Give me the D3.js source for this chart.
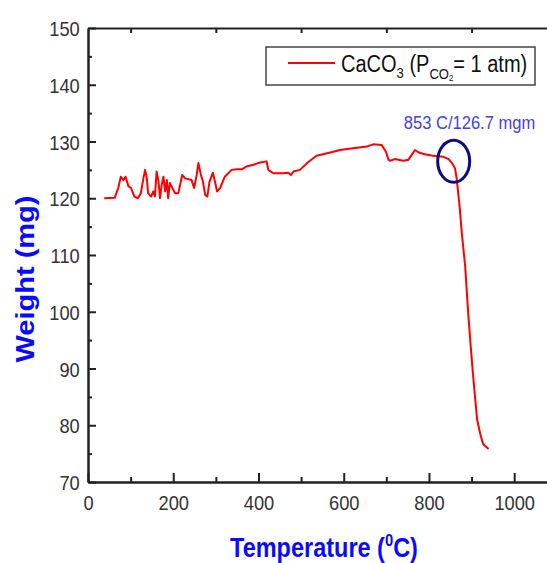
<!DOCTYPE html>
<html>
<head>
<meta charset="utf-8">
<script src="https://cdn.jsdelivr.net/npm/d3@7"></script>
<style>
  html, body { margin: 0; padding: 0; background: #fff; }
  svg { display: block; font-family: "Liberation Sans", Arial, sans-serif; }
</style>
</head>
<body>
<div id="chart"></div>
<script>
// ---- Data ----
const temperature = [38, 63, 71, 77, 83, 88, 95, 101, 109, 117, 124, 130, 134, 138, 141, 148, 153, 157, 161, 165, 169, 173, 177, 181, 185, 188, 192, 196, 204, 212, 221, 228, 243, 249, 255, 259, 265, 269, 275, 280, 285, 293, 298, 303, 310, 321, 337, 349, 361, 372, 388, 404, 419, 423, 435, 458, 470, 476, 482, 497, 517, 536, 576, 591, 622, 654, 669, 689, 699, 705, 709, 720, 740, 752, 759, 767, 775, 787, 810, 834, 846, 854, 861, 865, 872, 877, 885, 892, 898, 903, 908, 913, 920, 925, 928, 940, 951];
const weight = [120.0, 120.1, 121.8, 123.8, 123.2, 123.8, 122.1, 121.8, 120.3, 120.0, 120.9, 123.5, 125.0, 123.5, 120.9, 120.3, 121.2, 120.3, 124.7, 123.2, 120.0, 122.4, 123.8, 121.2, 123.2, 120.0, 122.7, 122.1, 120.9, 120.9, 124.1, 123.5, 123.2, 121.8, 124.1, 126.2, 124.1, 123.2, 120.6, 120.3, 122.9, 124.5, 122.9, 121.2, 121.8, 123.8, 125.0, 125.1, 125.1, 125.6, 125.9, 126.3, 126.5, 125.0, 124.4, 124.4, 124.5, 124.1, 124.7, 125.0, 126.4, 127.5, 128.2, 128.5, 128.8, 129.1, 129.5, 129.4, 128.2, 126.8, 126.6, 126.9, 126.6, 126.8, 127.6, 128.5, 128.1, 127.8, 127.5, 127.3, 126.9, 126.2, 125.3, 123.5, 118.5, 113.9, 108.0, 99.8, 93.9, 89.2, 85.1, 81.0, 78.6, 77.2, 76.6, 75.8];
const xMajorTicks = [0, 200, 400, 600, 800, 1000];
const xMinorTicks = [100, 300, 500, 700, 900, 1100];
const yMajorTicks = [70, 80, 90, 100, 110, 120, 130, 140, 150];
const yMinorTicks = [75, 85, 95, 105, 115, 125, 135, 145];
const seriesLabel = ["CaCO", "3", " (P", "CO", "2", "= 1 atm)"];
const annotationText = "853 C/126.7 mgm";
const annotationPoint = [858, 127.4];
const xTitle = ["Temperature (", "0", "C)"];
const yTitle = "Weight (mg)";

// ---- Layout ----
const W = 547, H = 563;
const mLeft = 88, mTop = 28, mBottom = 482;
const pxPerUnit = 0.4262;
const SX = 0.87; // horizontal text compression seen in the reference

const x = d3.scaleLinear().domain([0, 1100]).range([mLeft, mLeft + 1100 * pxPerUnit]);
const y = d3.scaleLinear().domain([70, 150]).range([mBottom, mTop]);

const svg = d3.select("#chart").append("svg").attr("width", W).attr("height", H);

const axisColor = "#222";
const labelColor = "#333";

function styleAxis(g, hideText) {
  g.select(".domain").attr("stroke", axisColor).attr("stroke-width", 2);
  g.selectAll(".tick line").attr("stroke", axisColor).attr("stroke-width", 2);
  if (hideText) g.selectAll(".tick text").remove();
}

// Bottom axis: minor then major
svg.append("g").attr("transform", `translate(0,${mBottom})`)
  .call(d3.axisBottom(x).tickValues(xMinorTicks).tickSize(-5).tickSizeOuter(0).tickFormat(""))
  .call(g => styleAxis(g, true));
const xAx = svg.append("g").attr("transform", `translate(0,${mBottom})`)
  .call(d3.axisBottom(x).tickValues(xMajorTicks).tickSize(-9).tickSizeOuter(0).tickPadding(13).tickFormat(d3.format("d")))
  .call(g => styleAxis(g, false));
xAx.selectAll(".tick text")
  .attr("font-size", 21).attr("fill", labelColor)
  .attr("font-family", "'Liberation Sans', Arial, sans-serif")
  .attr("transform", `scale(${SX},1)`);

// Top axis
svg.append("g").attr("transform", `translate(0,${mTop})`)
  .call(d3.axisTop(x).tickValues(xMinorTicks).tickSize(-5).tickSizeOuter(0).tickFormat(""))
  .call(g => styleAxis(g, true));

// Left axis
svg.append("g").attr("transform", `translate(${mLeft},0)`)
  .call(d3.axisLeft(y).tickValues(yMinorTicks).tickSize(-4).tickSizeOuter(0).tickFormat(""))
  .call(g => styleAxis(g, true));
const yAx = svg.append("g").attr("transform", `translate(${mLeft},0)`)
  .call(d3.axisLeft(y).tickValues(yMajorTicks).tickSize(-8).tickSizeOuter(0).tickPadding(9.5).tickFormat(d3.format("d")))
  .call(g => styleAxis(g, false));
yAx.selectAll(".tick text")
  .attr("font-size", 21).attr("fill", labelColor)
  .attr("font-family", "'Liberation Sans', Arial, sans-serif")
  .attr("dy", "0.36em")
  .attr("transform", `scale(${SX},1)`);

// Data line
const data = temperature.map((t, i) => [t, weight[i]]);
svg.append("path")
  .datum(data)
  .attr("fill", "none")
  .attr("stroke", "#ff0000")
  .attr("stroke-width", 2)
  .attr("stroke-linejoin", "round")
  .attr("d", d3.line().x(d => x(d[0])).y(d => y(d[1])));

// Circle marker
svg.append("ellipse")
  .attr("cx", x(annotationPoint[0])).attr("cy", y(annotationPoint[1]) + 5)
  .attr("rx", 16).attr("ry", 21)
  .attr("fill", "none").attr("stroke", "#0b0b85").attr("stroke-width", 3);

// Annotation text
svg.append("g").attr("transform", `translate(469.5,129.3) scale(${SX},1)`)
  .append("text").attr("text-anchor", "middle")
  .attr("font-size", 19).attr("fill", "#4242e6")
  .text(annotationText);

// Legend
svg.append("rect").attr("x", 266).attr("y", 47).attr("width", 269).attr("height", 38)
  .attr("fill", "#fff").attr("stroke", "#444").attr("stroke-width", 1.5);
svg.append("line").attr("x1", 288).attr("x2", 335).attr("y1", 63).attr("y2", 63)
  .attr("stroke", "#ff0000").attr("stroke-width", 2);
const lt = svg.append("g").attr("transform", `translate(341,71.5) scale(${SX},1)`)
  .append("text").attr("font-size", 23).attr("fill", "#111");
lt.append("tspan").text(seriesLabel[0]);
lt.append("tspan").attr("font-size", 15).attr("dy", 6).text(seriesLabel[1]);
lt.append("tspan").attr("dy", -6).text(seriesLabel[2]);
lt.append("tspan").attr("font-size", 15).attr("dy", 7).text(seriesLabel[3]);
lt.append("tspan").attr("font-size", 9).attr("dy", 3).text(seriesLabel[4]);
lt.append("tspan").attr("dy", -10).text(seriesLabel[5]);

// Axis titles
const xt = svg.append("g").attr("transform", `translate(324,557) scale(${SX},1)`)
  .append("text").attr("text-anchor", "middle")
  .attr("font-size", 27).attr("font-weight", "bold").attr("fill", "#0a0aff");
xt.append("tspan").text(xTitle[0]);
xt.append("tspan").attr("font-size", 17).attr("dy", -11).text(xTitle[1]);
xt.append("tspan").attr("dy", 11).text(xTitle[2]);

svg.append("g").attr("transform", `translate(34,279) scale(${SX},1) rotate(-90)`)
  .append("text").attr("text-anchor", "middle")
  .attr("font-size", 29).attr("font-weight", "bold").attr("fill", "#0a0aff")
  .text(yTitle);
</script>
</body>
</html>
